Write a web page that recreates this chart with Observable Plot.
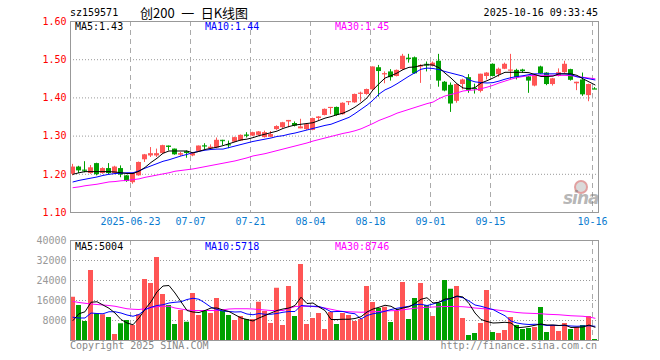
<!DOCTYPE html>
<html><head><meta charset="utf-8">
<script src="https://cdn.jsdelivr.net/npm/d3@7"></script>
<script src="https://cdn.jsdelivr.net/npm/@observablehq/plot@0.6"></script>
<style>
body{margin:0;background:#fff;}
#wrap{position:relative;width:660px;height:360px;overflow:hidden;background:#fff;font-family:"DejaVu Sans Mono",monospace;font-size:10px;}
.t{position:absolute;white-space:pre;line-height:12px;}
#wrap svg{position:absolute;left:0;}
</style></head><body><div id="wrap"></div>
<script>
const dates = ["2025-06-09","2025-06-10","2025-06-11","2025-06-12","2025-06-13","2025-06-16","2025-06-17","2025-06-18","2025-06-19","2025-06-20",
"2025-06-23","2025-06-24","2025-06-25","2025-06-26","2025-06-27","2025-06-30","2025-07-01","2025-07-02","2025-07-03","2025-07-04",
"2025-07-07","2025-07-08","2025-07-09","2025-07-10","2025-07-11","2025-07-14","2025-07-15","2025-07-16","2025-07-17","2025-07-18",
"2025-07-21","2025-07-22","2025-07-23","2025-07-24","2025-07-25","2025-07-28","2025-07-29","2025-07-30","2025-07-31","2025-08-01",
"2025-08-04","2025-08-05","2025-08-06","2025-08-07","2025-08-08","2025-08-11","2025-08-12","2025-08-13","2025-08-14","2025-08-15",
"2025-08-18","2025-08-19","2025-08-20","2025-08-21","2025-08-22","2025-08-25","2025-08-26","2025-08-27","2025-08-28","2025-08-29",
"2025-09-01","2025-09-02","2025-09-03","2025-09-04","2025-09-05","2025-09-08","2025-09-09","2025-09-10","2025-09-11","2025-09-12",
"2025-09-15","2025-09-16","2025-09-17","2025-09-18","2025-09-19","2025-09-22","2025-09-23","2025-09-24","2025-09-25","2025-09-26",
"2025-09-29","2025-09-30","2025-10-09","2025-10-10","2025-10-13","2025-10-14","2025-10-15","2025-10-16"];

const openPx = [1.200,1.219,1.211,1.202,1.228,1.202,1.215,1.202,1.215,1.196,
1.178,1.196,1.238,1.248,1.248,1.254,1.274,1.266,1.250,1.259,
1.248,1.260,1.275,1.267,1.269,1.289,1.278,1.284,1.287,1.303,
1.300,1.302,1.296,1.297,1.317,1.322,1.337,1.333,1.319,1.317,
1.315,1.346,1.354,1.373,1.375,1.356,1.389,1.387,1.411,1.409,
1.421,1.479,1.461,1.468,1.456,1.474,1.504,1.505,1.481,1.488,
1.483,1.496,1.441,1.433,1.391,1.435,1.453,1.425,1.417,1.456,
1.488,1.461,1.475,1.470,1.472,1.473,1.455,1.431,1.481,1.465,
1.435,1.456,1.466,1.474,1.437,1.447,1.406,1.424];
const highPx = [1.226,1.221,1.233,1.223,1.229,1.217,1.228,1.221,1.222,1.197,
1.203,1.232,1.252,1.270,1.266,1.276,1.274,1.266,1.257,1.261,
1.257,1.274,1.280,1.277,1.295,1.289,1.287,1.297,1.303,1.309,
1.310,1.312,1.313,1.312,1.327,1.336,1.341,1.337,1.344,1.331,
1.347,1.351,1.371,1.375,1.376,1.387,1.390,1.410,1.415,1.423,
1.481,1.485,1.468,1.474,1.473,1.514,1.514,1.507,1.487,1.494,
1.494,1.514,1.443,1.439,1.436,1.449,1.461,1.436,1.462,1.466,
1.489,1.478,1.491,1.514,1.475,1.475,1.456,1.461,1.483,1.466,
1.451,1.476,1.496,1.475,1.441,1.465,1.436,1.427];
const lowPx = [1.196,1.202,1.204,1.200,1.196,1.200,1.199,1.199,1.191,1.179,
1.174,1.195,1.231,1.244,1.244,1.253,1.261,1.250,1.247,1.242,
1.246,1.257,1.265,1.265,1.267,1.275,1.267,1.283,1.286,1.295,
1.299,1.300,1.295,1.296,1.315,1.320,1.322,1.324,1.319,1.315,
1.314,1.340,1.353,1.356,1.352,1.355,1.380,1.386,1.389,1.407,
1.420,1.402,1.437,1.444,1.455,1.472,1.491,1.462,1.438,1.468,
1.481,1.428,1.416,1.362,1.386,1.421,1.412,1.410,1.413,1.447,
1.455,1.454,1.474,1.447,1.447,1.464,1.412,1.429,1.462,1.432,
1.431,1.455,1.464,1.444,1.419,1.404,1.390,1.422];
const closePx = [1.219,1.209,1.209,1.217,1.199,1.215,1.202,1.219,1.198,1.181,
1.202,1.231,1.251,1.254,1.254,1.275,1.273,1.251,1.254,1.257,
1.254,1.274,1.274,1.271,1.289,1.288,1.277,1.296,1.302,1.302,
1.309,1.311,1.309,1.304,1.325,1.335,1.341,1.326,1.324,1.330,
1.346,1.350,1.370,1.375,1.354,1.386,1.390,1.409,1.412,1.422,
1.481,1.469,1.463,1.453,1.472,1.509,1.503,1.463,1.484,1.486,
1.491,1.444,1.418,1.384,1.435,1.447,1.419,1.422,1.462,1.465,
1.456,1.475,1.488,1.473,1.453,1.469,1.444,1.460,1.463,1.435,
1.450,1.466,1.488,1.446,1.441,1.408,1.435,1.423];
const volume = [17300,14000,7600,28000,10700,10300,9200,2400,6700,8000,
6000,10300,24400,22800,33200,18400,14000,6400,12000,7300,
18800,10000,11600,10800,16800,11600,10000,8000,9600,8400,
8400,15300,11600,6800,20900,6000,21600,9600,30400,6400,
8800,10800,4400,11200,6400,10800,10000,7600,8400,21600,
15200,12800,13300,7200,11600,23200,8400,16800,22800,14000,
9600,14800,24000,20500,21600,8800,2000,2800,6800,20000,
3200,2800,4000,9200,6000,4400,4800,5200,13200,3200,
6000,3600,6800,4400,5200,6000,9600,400];
const ma5 = [1.200,1.204,1.207,1.207,1.207,1.207,1.207,1.206,1.204,1.202,
1.202,1.208,1.218,1.231,1.242,1.255,1.261,1.261,1.261,1.261,
1.256,1.260,1.265,1.268,1.271,1.275,1.280,1.285,1.290,1.292,
1.296,1.301,1.305,1.309,1.313,1.320,1.325,1.329,1.331,1.333,
1.335,1.341,1.347,1.351,1.356,1.360,1.367,1.376,1.387,1.400,
1.421,1.437,1.452,1.458,1.465,1.474,1.480,1.481,1.485,1.487,
1.486,1.479,1.465,1.452,1.437,1.426,1.424,1.427,1.439,1.445,
1.452,1.460,1.467,1.467,1.467,1.467,1.466,1.461,1.456,1.456,
1.457,1.463,1.463,1.463,1.459,1.450,1.442,1.434];
const ma10 = [1.180,1.184,1.187,1.190,1.193,1.197,1.200,1.202,1.203,1.204,
1.204,1.209,1.216,1.222,1.228,1.234,1.238,1.243,1.248,1.252,
1.257,1.260,1.263,1.265,1.266,1.266,1.270,1.274,1.278,1.282,
1.286,1.289,1.292,1.295,1.299,1.301,1.305,1.308,1.312,1.316,
1.320,1.324,1.328,1.331,1.337,1.343,1.349,1.359,1.370,1.381,
1.394,1.410,1.421,1.428,1.437,1.447,1.457,1.466,1.475,1.478,
1.477,1.474,1.469,1.465,1.461,1.457,1.447,1.442,1.440,1.439,
1.440,1.444,1.449,1.453,1.456,1.458,1.461,1.463,1.463,1.463,
1.463,1.463,1.463,1.461,1.455,1.453,1.450,1.447];
const ma30 = [1.165,1.167,1.170,1.172,1.174,1.177,1.180,1.181,1.183,1.184,
1.186,1.188,1.192,1.195,1.198,1.201,1.204,1.208,1.210,1.212,
1.214,1.217,1.220,1.223,1.226,1.229,1.232,1.235,1.239,1.243,
1.248,1.251,1.254,1.258,1.262,1.266,1.270,1.274,1.278,1.282,
1.287,1.291,1.295,1.299,1.303,1.307,1.310,1.314,1.319,1.326,
1.333,1.341,1.347,1.353,1.360,1.365,1.370,1.375,1.380,1.385,
1.389,1.398,1.405,1.409,1.413,1.418,1.420,1.421,1.424,1.428,
1.433,1.439,1.444,1.449,1.453,1.456,1.458,1.459,1.459,1.459,
1.459,1.459,1.459,1.458,1.456,1.454,1.452,1.450];
const volMa5 = [8000,10700,11500,15300,15500,14200,12900,11000,8400,7000,
6300,9000,12500,15500,19500,21800,22000,19000,15500,12000,
11400,11200,12000,13000,13000,12200,11600,10300,9000,8400,
7800,9000,10000,11000,12000,12600,13000,14000,17300,14800,
15000,13400,12000,8400,8400,8500,8500,8800,9500,11400,
12600,13300,14100,13700,12300,13000,13500,14800,16500,17100,
15000,15300,16600,16800,17800,17400,14800,11000,8400,7600,
7000,7100,7300,7000,5100,5300,5600,6100,6600,6200,
6200,6000,6200,5200,5300,5400,6200,5300];
const volMa10 = [9300,9000,9000,11000,10800,10700,11500,11500,11000,10200,
9700,10400,12300,13300,14000,14300,15000,15300,15500,16400,
16900,16500,15000,13300,12400,11800,11600,11400,11500,10600,
10300,10800,10500,10500,10800,11300,11600,11600,14000,13800,
13700,13600,12800,11500,11600,11600,11000,10700,8600,10000,
10700,11100,11700,12400,12900,13300,13700,14300,14500,14000,
14600,15300,16100,16900,17600,17100,15800,14200,13700,13000,
12400,11100,9900,7800,7000,6600,6400,6500,6400,6000,
6100,6000,6000,5800,5700,5800,5900,5700];
const volMa30 = [15600,15200,14900,14600,14400,14200,14000,13700,13200,12700,
12500,12400,12700,13200,13500,13700,13700,13000,12600,12200,
12000,12000,12000,12000,12000,12300,12600,12700,12700,12700,
12600,12400,12200,12000,12000,12000,12800,13600,13700,13700,
13600,13400,13000,12500,12000,11600,11500,11400,11300,11400,
11500,11600,11800,11900,12000,12300,12600,12900,13100,13300,
13400,13500,13600,13600,13600,13500,13300,13000,12800,12600,
12400,12100,11800,11500,11200,11000,10900,10800,10700,10500,
10400,10300,10100,9900,9800,9700,9400,8900];

const tickDates = ["2025-06-23","2025-07-07","2025-07-21","2025-08-04","2025-08-18","2025-09-01","2025-09-15","2025-10-16"];
const tickLabels = ["2025-06-23","07-07","07-21","08-04","08-18","09-01","09-15","10-16"];
const priceTicks = [1.10,1.20,1.30,1.40,1.50,1.60];
const priceGrid = [1.20,1.30,1.40,1.50];
const volTicks = [8000,16000,24000,32000,40000];
const volGrid = [8000,16000,24000,32000];

const RED = "#ff5555", GREEN = "#00a000";
const data = dates.map((date, i) => ({date, open: openPx[i], high: highPx[i], low: lowPx[i], close: closePx[i],
  vol: volume[i], ma5: ma5[i], ma10: ma10[i], ma30: ma30[i], vma5: volMa5[i], vma10: volMa10[i], vma30: volMa30[i]}));
const trend = d => d.close >= d.open ? "up" : "down";
const labelOf = new Map(tickDates.map((d, i) => [d, tickLabels[i]]));
const style = {fontFamily: "DejaVu Sans Mono", fontSize: "10px", background: "transparent", overflow: "visible"};
const xScale = {type: "band", domain: dates, padding: 0};
const color = {domain: ["up", "down"], range: [RED, GREEN]};
const dots = {stroke: "#999", strokeDasharray: "1 2", strokeOpacity: 1};
const dashes = {stroke: "#aaa", strokeDasharray: "5 4", strokeOpacity: 1, dx: -3};

const topPlot = Plot.plot({
  width: 660, height: 232, marginTop: 21, marginBottom: 20, marginLeft: 70, marginRight: 62,
  style, x: xScale, y: {domain: [1.10, 1.60], label: null}, color,
  marks: [
    Plot.ruleY(priceGrid, dots),
    Plot.ruleX(tickDates, dashes),
    Plot.ruleX(data, {x: "date", y1: "low", y2: "high", stroke: trend, dx: -1}),
    Plot.barY(data, {x: "date", y1: "open", y2: "close", fill: trend, insetRight: 1}),
    Plot.tickY(data.filter(d => Math.abs(d.close - d.open) < 0.003), {x: "date", y: "close", stroke: trend, insetRight: 1}),
    Plot.line(data, {x: "date", y: "ma30", stroke: "#ff00ff", strokeWidth: 1, dx: -0.5}),
    Plot.line(data, {x: "date", y: "ma10", stroke: "#0000ff", strokeWidth: 1, dx: -0.5}),
    Plot.line(data, {x: "date", y: "ma5", stroke: "#000000", strokeWidth: 1, dx: -0.5}),
    Plot.frame({stroke: "#999"}),
    Plot.axisY(priceTicks, {anchor: "left", tickSize: 0, tickPadding: 4, tickFormat: d => d.toFixed(2), fill: "#ff0000", label: null}),
    Plot.axisX(tickDates, {anchor: "bottom", tickSize: 0, tickPadding: 5, tickFormat: d => labelOf.get(d), fill: "#0a7bd0", dx: -3, label: null})
  ]
});
topPlot.style.top = "0px";

const volPlot = Plot.plot({
  width: 660, height: 128, marginTop: 8, marginBottom: 20, marginLeft: 70, marginRight: 62,
  style, x: {...xScale, axis: null}, y: {domain: [0, 40000], label: null}, color,
  marks: [
    Plot.ruleY(volGrid, dots),
    Plot.ruleX(tickDates, dashes),
    Plot.barY(data, {x: "date", y: "vol", fill: trend, insetRight: 1}),
    Plot.line(data, {x: "date", y: "vma30", stroke: "#ff00ff", strokeWidth: 1, dx: -0.5}),
    Plot.line(data, {x: "date", y: "vma10", stroke: "#0000ff", strokeWidth: 1, dx: -0.5}),
    Plot.line(data, {x: "date", y: "vma5", stroke: "#000000", strokeWidth: 1, dx: -0.5}),
    Plot.frame({stroke: "#999"}),
    Plot.axisY(volTicks, {anchor: "left", tickSize: 0, tickPadding: 4, tickFormat: d => String(d), fill: "#999", label: null})
  ]
});
volPlot.style.top = "232px";

const wrap = document.getElementById("wrap");
wrap.appendChild(topPlot);
wrap.appendChild(volPlot);

function addText(txt, css) {
  const el = document.createElement("div");
  el.className = "t";
  el.textContent = txt;
  Object.assign(el.style, css);
  wrap.appendChild(el);
  return el;
}
addText("sz159571", {left: "70px", top: "7px", color: "#000"});
addText("创200\u2002一\u2002日K线图", {left: "140px", top: "5px", color: "#000", fontFamily: "'Noto Sans CJK SC', sans-serif", fontSize: "13px", lineHeight: "15px"});
addText("2025-10-16 09:33:45", {right: "62px", top: "7px", color: "#000"});
addText("MA5:1.43", {left: "75px", top: "21px", color: "#000"});
addText("MA10:1.44", {left: "205px", top: "21px", color: "#0000ff"});
addText("MA30:1.45", {left: "335px", top: "21px", color: "#ff00ff"});
addText("MA5:5004", {left: "75px", top: "241px", color: "#000"});
addText("MA10:5718", {left: "205px", top: "241px", color: "#0000ff"});
addText("MA30:8746", {left: "335px", top: "241px", color: "#ff00ff"});
addText("Copyright 2025 SINA.COM", {left: "70px", top: "340px", color: "#888"});
addText("http://finance.sina.com.cn", {right: "63px", top: "340px", color: "#888"});
// sina watermark
const eye = document.createElement("div");
Object.assign(eye.style, {position: "absolute", left: "574px", top: "180px", width: "10px", height: "10px", borderRadius: "50%", border: "2px solid rgba(235,90,90,0.45)", background: "rgba(150,150,150,0.35)"});
wrap.appendChild(eye);
addText("sina", {left: "563px", top: "189px", color: "rgba(120,120,120,0.55)", fontFamily: "'DejaVu Sans', sans-serif", fontStyle: "italic", fontWeight: "bold", fontSize: "17px", lineHeight: "18px", letterSpacing: "-1px"});
</script></body></html>
